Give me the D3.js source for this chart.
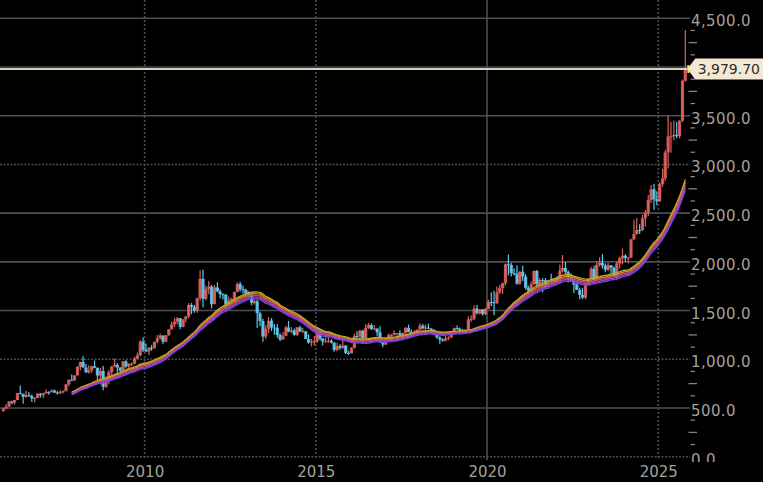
<!DOCTYPE html>
<html>
<head>
<meta charset="utf-8">
<script src="https://cdn.jsdelivr.net/npm/d3@7"></script>
<style>
  html, body { margin: 0; padding: 0; background: #000; }
  svg { display: block; }
</style>
</head>
<body>
<svg id="chart" width="763" height="482"></svg>
<script>
// ---- Data: monthly gold OHLC (USD/oz), Nov 2005 .. Oct 2025 ----
const startMonth = "2005-11";
const open = [
  470, 495,
  513, 568, 556, 582, 654, 643, 613, 633, 623, 599, 604, 646,
  632, 650, 665, 662, 679, 659, 650, 666, 673, 743, 789, 783,
  834, 923, 972, 916, 865, 886, 928, 912, 833, 880, 718, 815,
  869, 928, 942, 916, 883, 979, 926, 954, 955, 1008, 1040, 1181,
  1096, 1081, 1118, 1113, 1179, 1213, 1244, 1181, 1247, 1307, 1357, 1386,
  1421, 1332, 1409, 1439, 1556, 1536, 1500, 1628, 1826, 1620, 1723, 1746,
  1566, 1737, 1697, 1669, 1664, 1561, 1604, 1622, 1692, 1772, 1719, 1712,
  1675, 1664, 1579, 1596, 1472, 1393, 1234, 1313, 1396, 1327, 1323, 1250,
  1202, 1240, 1326, 1284, 1296, 1250, 1327, 1282, 1287, 1208, 1171, 1183,
  1184, 1283, 1213, 1183, 1183, 1190, 1172, 1095, 1135, 1115, 1142, 1065,
  1061, 1118, 1238, 1233, 1293, 1215, 1322, 1351, 1309, 1316, 1277, 1173,
  1151, 1211, 1249, 1249, 1268, 1269, 1242, 1269, 1322, 1280, 1271, 1275,
  1303, 1345, 1318, 1325, 1316, 1299, 1253, 1224, 1201, 1192, 1215, 1222,
  1282, 1321, 1313, 1292, 1284, 1305, 1409, 1414, 1520, 1472, 1513, 1464,
  1517, 1589, 1585, 1577, 1686, 1730, 1781, 1975, 1968, 1886, 1879, 1776,
  1898, 1847, 1734, 1707, 1769, 1906, 1770, 1814, 1813, 1743, 1783, 1774,
  1829, 1797, 1909, 1937, 1897, 1837, 1807, 1766, 1711, 1660, 1633, 1768,
  1824, 1928, 1827, 1969, 1990, 1963, 1919, 1965, 1940, 1849, 1983, 2036,
  2063, 2039, 2044, 2230, 2286, 2327, 2326, 2447, 2503, 2634, 2744, 2643,
  2625, 2798, 2858, 3124, 3288, 3289, 3303, 3290, 3448, 3858
];
const high = [
  497, 538,
  570, 574, 584, 655, 730, 649, 677, 664, 638, 610, 650, 653,
  656, 690, 672, 692, 691, 673, 683, 679, 745, 794, 845, 837,
  929, 975, 1032, 951, 939, 933, 988, 917, 913, 930, 822, 889,
  928, 1006, 961, 917, 982, 989, 960, 966, 1025, 1070, 1195, 1227,
  1161, 1125, 1145, 1180, 1249, 1265, 1245, 1250, 1311, 1388, 1424, 1432,
  1424, 1412, 1447, 1575, 1577, 1556, 1632, 1913, 1921, 1756, 1803, 1764,
  1763, 1791, 1718, 1679, 1668, 1641, 1628, 1693, 1790, 1795, 1755, 1723,
  1697, 1686, 1617, 1613, 1488, 1417, 1348, 1434, 1424, 1362, 1361, 1267,
  1280, 1345, 1392, 1331, 1315, 1332, 1345, 1323, 1290, 1255, 1208, 1239,
  1307, 1286, 1219, 1224, 1232, 1205, 1175, 1170, 1157, 1191, 1142, 1088,
  1123, 1263, 1287, 1304, 1304, 1362, 1375, 1367, 1352, 1317, 1338, 1180,
  1220, 1264, 1262, 1296, 1270, 1297, 1274, 1331, 1357, 1306, 1299, 1306,
  1366, 1362, 1356, 1366, 1318, 1309, 1265, 1236, 1215, 1243, 1237, 1284,
  1326, 1346, 1325, 1311, 1306, 1439, 1453, 1555, 1557, 1517, 1516, 1526,
  1611, 1689, 1704, 1748, 1765, 1789, 1984, 2075, 1992, 1933, 1965, 1906,
  1959, 1875, 1755, 1798, 1913, 1916, 1832, 1833, 1834, 1814, 1877, 1831,
  1853, 1974, 2070, 1998, 1910, 1880, 1814, 1808, 1735, 1730, 1786, 1833,
  1949, 1959, 2009, 2048, 2079, 1983, 1987, 1968, 1953, 2009, 2052, 2135,
  2078, 2051, 2236, 2431, 2450, 2387, 2483, 2531, 2685, 2790, 2801, 2726,
  2817, 2956, 3149, 3500, 3435, 3452, 3439, 3453, 3872, 4381
];
const low = [
  460, 489,
  513, 538, 535, 581, 640, 543, 605, 613, 561, 560, 602, 606,
  602, 650, 636, 661, 652, 639, 648, 648, 671, 722, 776, 782,
  834, 888, 913, 864, 851, 858, 908, 786, 740, 681, 705, 743,
  802, 918, 864, 866, 869, 913, 905, 931, 948, 1003, 1034, 1075,
  1073, 1044, 1088, 1113, 1164, 1202, 1157, 1175, 1241, 1307, 1330, 1360,
  1309, 1330, 1381, 1422, 1462, 1478, 1478, 1600, 1534, 1604, 1667, 1523,
  1564, 1689, 1627, 1614, 1527, 1548, 1566, 1588, 1687, 1693, 1672, 1636,
  1626, 1555, 1562, 1321, 1338, 1180, 1208, 1271, 1291, 1251, 1221, 1187,
  1202, 1238, 1278, 1268, 1241, 1240, 1285, 1273, 1205, 1160, 1131, 1142,
  1167, 1192, 1142, 1175, 1169, 1162, 1077, 1080, 1098, 1108, 1052, 1046,
  1061, 1108, 1208, 1207, 1199, 1200, 1311, 1302, 1302, 1241, 1171, 1123,
  1146, 1195, 1195, 1244, 1214, 1236, 1205, 1265, 1276, 1260, 1264, 1236,
  1302, 1307, 1303, 1311, 1282, 1246, 1211, 1160, 1180, 1183, 1196, 1221,
  1276, 1302, 1281, 1266, 1267, 1301, 1382, 1400, 1459, 1459, 1446, 1454,
  1517, 1547, 1451, 1567, 1670, 1671, 1757, 1863, 1849, 1860, 1765, 1765,
  1803, 1717, 1677, 1706, 1766, 1750, 1750, 1688, 1721, 1722, 1759, 1753,
  1780, 1781, 1890, 1872, 1787, 1805, 1681, 1710, 1615, 1617, 1616, 1765,
  1822, 1805, 1810, 1950, 1932, 1893, 1903, 1885, 1846, 1810, 1931, 1973,
  2002, 1984, 2039, 2228, 2277, 2286, 2319, 2364, 2471, 2603, 2536, 2583,
  2615, 2772, 2833, 2957, 3121, 3248, 3268, 3268, 3436, 3850
];
const close = [
  495, 513,
  568, 556, 582, 654, 643, 613, 633, 623, 599, 604, 646, 632,
  650, 665, 662, 679, 659, 650, 666, 673, 743, 789, 783, 834,
  923, 972, 916, 865, 886, 928, 912, 833, 880, 718, 815, 869,
  928, 942, 916, 883, 979, 926, 954, 955, 1008, 1040, 1181, 1096,
  1081, 1118, 1113, 1179, 1213, 1244, 1181, 1247, 1307, 1357, 1386, 1421,
  1332, 1409, 1439, 1556, 1536, 1500, 1628, 1826, 1620, 1723, 1746, 1566,
  1737, 1697, 1669, 1664, 1561, 1604, 1622, 1692, 1772, 1719, 1712, 1675,
  1664, 1579, 1596, 1472, 1393, 1234, 1313, 1396, 1327, 1323, 1250, 1202,
  1240, 1326, 1284, 1296, 1250, 1327, 1282, 1287, 1208, 1171, 1183, 1184,
  1283, 1213, 1183, 1183, 1190, 1172, 1095, 1135, 1115, 1142, 1065, 1061,
  1118, 1238, 1233, 1293, 1215, 1322, 1351, 1309, 1316, 1277, 1173, 1151,
  1211, 1249, 1249, 1268, 1269, 1242, 1269, 1322, 1280, 1271, 1275, 1303,
  1345, 1318, 1325, 1316, 1299, 1253, 1224, 1201, 1192, 1215, 1222, 1282,
  1321, 1313, 1292, 1284, 1305, 1409, 1414, 1520, 1472, 1513, 1464, 1517,
  1589, 1585, 1577, 1686, 1730, 1781, 1975, 1968, 1886, 1879, 1776, 1898,
  1847, 1734, 1707, 1769, 1906, 1770, 1814, 1813, 1743, 1783, 1774, 1829,
  1797, 1909, 1937, 1897, 1837, 1807, 1766, 1711, 1660, 1633, 1768, 1824,
  1928, 1827, 1969, 1990, 1963, 1919, 1965, 1940, 1849, 1983, 2036, 2063,
  2039, 2044, 2230, 2286, 2327, 2326, 2447, 2503, 2634, 2744, 2643, 2625,
  2798, 2858, 3124, 3288, 3289, 3303, 3290, 3448, 3858, 3979.7
];
const yTickValues = [0, 500, 1000, 1500, 2000, 2500, 3000, 3500, 4000, 4500];
const yTickHidden = [4000];              // covered by the last-price label
const yDottedGrid = [0, 1000, 3000];
const xTickYears = [2010, 2015, 2020, 2025];
const xDottedYears = [2010, 2015, 2025];
const lastPrice = 3979.7;
const maLength = 23;
const ribbonStart = "2007-11";
const ribbonBands = [0.25, 0.125, 0, -0.125, -0.25];   // fraction of bar range added to close
const ribbonColors = ["#b2b22a", "#d68a30", "#d24a5a", "#a844c0", "#6c4ae0"];

// ---- Layout ----
const W = 763, H = 482;
const plotRight = 690;
const yZero = 456.7, yTop = 18.3;
const svg = d3.select("#chart");
const parseMonth = d3.timeParse("%Y-%m");
const t0 = parseMonth(startMonth);
const dates = close.map((_, i) => d3.timeMonth.offset(t0, i));
const mid = d => d3.timeDay.offset(d, 15);

const x = d3.scaleTime()
  .domain([new Date(2010, 0, 1), new Date(2020, 0, 1)])
  .range([144.6, 487]);
const y = d3.scaleLinear().domain([0, 4500]).range([yZero, yTop]);

svg.append("rect").attr("width", W).attr("height", H).attr("fill", "#000");

// ---- Horizontal grid ----
const gGrid = svg.append("g");
gGrid.selectAll("line.h").data(yTickValues).join("line")
  .attr("x1", 0).attr("x2", plotRight)
  .attr("y1", d => y(d)).attr("y2", d => y(d))
  .attr("stroke", "#4a4e56").attr("stroke-width", 1.6)
  .attr("stroke-dasharray", d => yDottedGrid.includes(d) ? "2,1.5" : null);

// ---- Vertical grid ----
gGrid.selectAll("line.v").data(xTickYears).join("line")
  .attr("x1", d => x(new Date(d, 0, 1))).attr("x2", d => x(new Date(d, 0, 1)))
  .attr("y1", 0).attr("y2", 460)
  .attr("stroke", "#4a4e56").attr("stroke-width", 1.6)
  .attr("stroke-dasharray", d => xDottedYears.includes(d) ? "2,2" : null);

// ---- Candles ----
svg.append("clipPath").attr("id", "plotClip")
  .append("rect").attr("x", 0).attr("y", 0).attr("width", plotRight).attr("height", 461);
const gC = svg.append("g").attr("clip-path", "url(#plotClip)");
const upCol = "#dc625e", dnCol = "#62c8ee";
const idx = d3.range(close.length);
gC.selectAll("line.wick").data(idx).join("line")
  .attr("x1", i => x(mid(dates[i]))).attr("x2", i => x(mid(dates[i])))
  .attr("y1", i => y(high[i])).attr("y2", i => y(low[i]))
  .attr("stroke", i => close[i] >= open[i] ? upCol : dnCol)
  .attr("stroke-width", 1.2);
gC.selectAll("rect.body").data(idx).join("rect")
  .attr("x", i => x(mid(dates[i])) - 1.6)
  .attr("width", 3.2)
  .attr("y", i => y(Math.max(open[i], close[i])))
  .attr("height", i => Math.max(1, Math.abs(y(open[i]) - y(close[i]))))
  .attr("fill", i => close[i] >= open[i] ? upCol : dnCol)
  .attr("opacity", 0.9);

// ---- Moving-average ribbon ----
const startIdx = d3.bisector(d => d).left(dates, parseMonth(ribbonStart));
ribbonBands.forEach((k, li) => {
  const src = idx.map(i => close[i] + k * (high[i] - low[i]));
  const ma = idx.map(i => i >= maLength - 1 ? d3.mean(src.slice(i - maLength + 1, i + 1)) : null);
  const pts = idx.filter(i => i >= startIdx && ma[i] != null);
  const line = d3.line()
    .x(i => x(mid(dates[i])))
    .y(i => y(ma[i]))
    .curve(d3.curveMonotoneX);
  gC.append("path").datum(pts)
    .attr("d", line)
    .attr("fill", "none")
    .attr("stroke", ribbonColors[li])
    .attr("stroke-width", 1.4)
    .attr("stroke-linejoin", "round");
});

// ---- Last price line ----
const yL = y(lastPrice);
const xLast = x(mid(dates[dates.length - 1]));
svg.append("line")
  .attr("x1", 0).attr("x2", xLast + 2)
  .attr("y1", yL).attr("y2", yL)
  .attr("stroke", "#d8d2b6").attr("stroke-width", 2);
svg.append("line")
  .attr("x1", xLast + 3).attr("x2", xLast + 3)
  .attr("y1", yL - 4).attr("y2", yL + 4)
  .attr("stroke", "#f0ec20").attr("stroke-width", 2);

// ---- Right axis (labels + minor ticks) ----
svg.append("clipPath").attr("id", "axisClip")
  .append("rect").attr("x", 0).attr("y", 0).attr("width", W).attr("height", 462);
const yAxis = d3.axisRight(y)
  .tickValues(yTickValues.filter(v => !yTickHidden.includes(v)))
  .tickSize(0)
  .tickPadding(0)
  .tickFormat(d3.format(",.1f"));
const gY = svg.append("g")
  .attr("transform", `translate(${plotRight + 1},0)`)
  .attr("clip-path", "url(#axisClip)")
  .call(yAxis);
gY.select(".domain").remove();
gY.selectAll("text")
  .attr("fill", "#a3a19c")
  .attr("font-family", "DejaVu Sans, Verdana, sans-serif")
  .attr("font-size", 15)
  .attr("dy", "0.5em")
  .attr("letter-spacing", 0.4);

const minor = d3.range(0, 4501, 125).filter(v => v % 500 !== 0);
svg.append("g").selectAll("line").data(minor).join("line")
  .attr("x1", d => d % 250 === 0 ? 688.5 : 690.5)
  .attr("x2", d => d % 250 === 0 ? 697 : 695)
  .attr("y1", d => y(d)).attr("y2", d => y(d))
  .attr("stroke", "#8c8c8c").attr("stroke-width", 1.2);

// ---- Bottom axis ----
const xAxis = d3.axisBottom(x)
  .tickValues(xTickYears.map(yr => new Date(yr, 0, 1)))
  .tickSize(0)
  .tickPadding(0)
  .tickFormat(d3.timeFormat("%Y"));
const gX = svg.append("g").attr("transform", "translate(0,462)").call(xAxis);
gX.select(".domain").remove();
gX.selectAll("text")
  .attr("fill", "#a3a19c")
  .attr("font-family", "DejaVu Sans, Verdana, sans-serif")
  .attr("font-size", 15)
  .attr("dy", "1.0em");

// ---- Last price tag ----
const tipX = xLast + 2;
svg.append("path")
  .attr("d", `M${tipX},${yL} L${tipX + 8},${yL - 10.5} L${W},${yL - 10.5} L${W},${yL + 10.5} L${tipX + 8},${yL + 10.5} Z`)
  .attr("fill", "#f2e8d3");
svg.append("text")
  .attr("x", W - 3).attr("y", yL)
  .attr("dy", "0.37em")
  .attr("text-anchor", "end")
  .attr("fill", "#2e2e2e")
  .attr("font-family", "DejaVu Sans, Verdana, sans-serif")
  .attr("font-size", 14)
  .text(d3.format(",.2f")(lastPrice));
</script>
</body>
</html>
